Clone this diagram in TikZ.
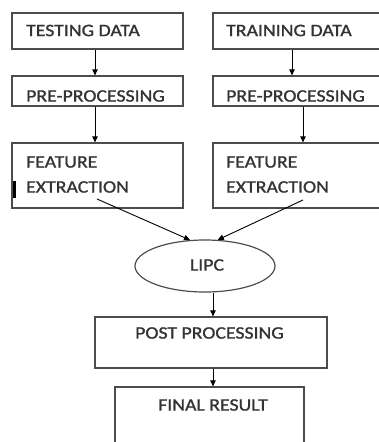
\documentclass[tikz,border=0pt]{standalone}
\usepackage{fontspec}
\setmainfont{Carlito}[FakeStretch=1.13,FakeBold=1.2]
\usetikzlibrary{shapes.geometric,arrows.meta}
\begin{document}
\begin{tikzpicture}[x=1pt,y=-1pt,
  box/.style={draw=black!70,line width=1.3pt,inner sep=0pt,rectangle},
  lbl/.style={font=\fontsize{17.5}{20}\selectfont,text=black!80,inner sep=0pt,anchor=west},
  arr/.style={draw=black,line width=0.9pt,-{Triangle[length=6pt,width=5.5pt]}}]
\useasboundingbox (0,0) rectangle (379,442);
% boxes
\node[box,minimum width=171pt,minimum height=36pt] (td) at (97.5,31) {};
\node[box,minimum width=170pt,minimum height=36pt] (trd) at (298,31) {};
\node[box,minimum width=171pt,minimum height=30pt] (pp1) at (97.5,91) {};
\node[box,minimum width=170pt,minimum height=30pt] (pp2) at (298,91) {};
\node[box,minimum width=171pt,minimum height=65pt] (fe1) at (97.5,175.5) {};
\node[box,minimum width=170pt,minimum height=65pt] (fe2) at (298,175.5) {};
\node[ellipse,draw=black!70,line width=1.2pt,minimum width=140pt,minimum height=52pt,inner sep=0pt] (lipc) at (205,266) {};
\node[box,minimum width=232pt,minimum height=51pt] (post) at (211,342.5) {};
\node[box,minimum width=189pt,minimum height=70pt] (final) at (209.5,422) {};
% labels
\node[lbl] (ltd) at (26,30.5) {TESTING DATA};
\node[lbl] (ltrd) at (226,30.5) {TRAINING DATA};
\node[lbl] (lpp1) at (26,96) {PRE-PROCESSING};
\node[lbl] (lpp2) at (226,96) {PRE-PROCESSING};
\node[lbl] (lfe1a) at (26,162) {FEATURE};
\node[lbl] (lfe1b) at (26,187) {EXTRACTION};
\node[lbl] (lfe2a) at (226,162) {FEATURE};
\node[lbl] (lfe2b) at (226,187) {EXTRACTION};
\node[lbl,anchor=center] (llipc) at (207,265) {LIPC};
\node[lbl,anchor=center] (lpost) at (209.5,333) {POST PROCESSING};
\node[lbl,anchor=center] (lfinal) at (213,405) {FINAL RESULT};
% small bar
\fill[black] (13,181) rectangle (15.5,198);
% connectors
\coordinate (xa) at (95,0);
\coordinate (xb) at (292,0);
\coordinate (xc) at (303,0);
\coordinate (xd) at (213,0);
\draw[arr] (td.south -| xa) -- (pp1.north -| xa);
\draw[arr] (pp1.south -| xa) -- (fe1.north -| xa);
\draw[arr] (trd.south -| xb) -- (pp2.north -| xb);
\draw[arr] (pp2.south -| xc) -- (fe2.north -| xc);
\coordinate (s1) at (97,199);
\coordinate (s2) at (303,200);
\draw[arr] (s1) -- (lipc.120);
\draw[arr] (s2) -- (lipc.64);
\draw[arr] (lipc.south -| xd) -- (post.north -| xd);
\draw[arr] (post.south -| xd) -- (final.north -| xd);
\end{tikzpicture}
\end{document}
